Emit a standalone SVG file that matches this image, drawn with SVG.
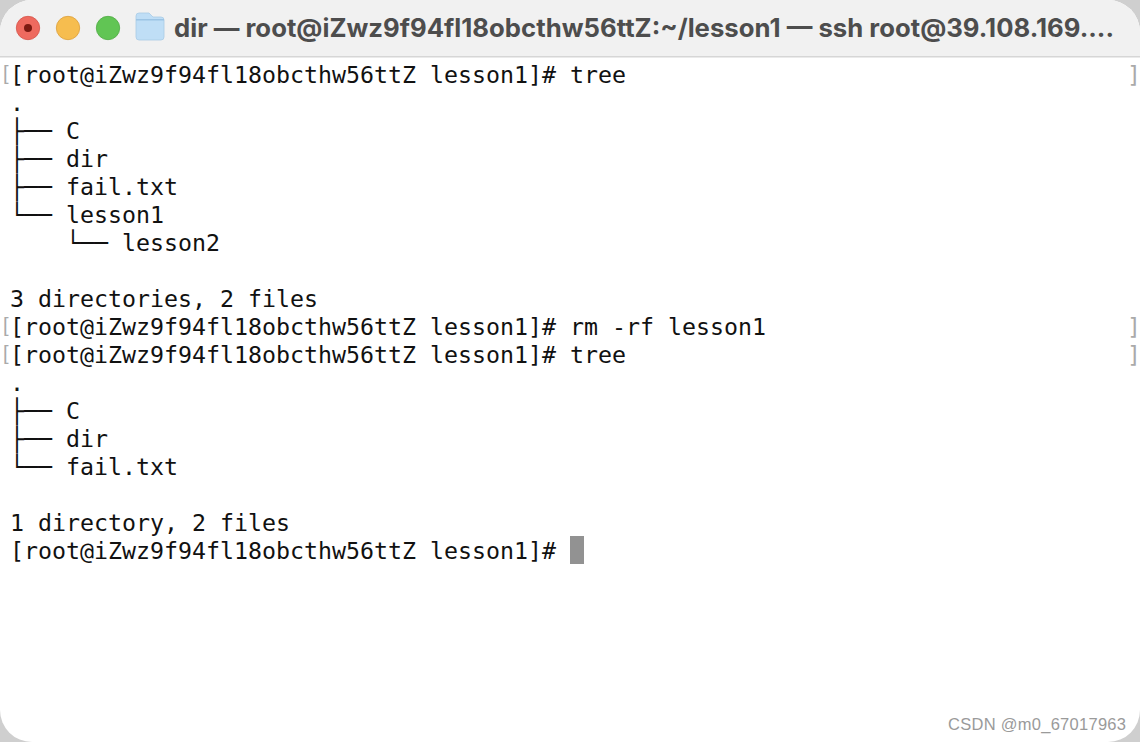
<svg xmlns="http://www.w3.org/2000/svg" width="1140" height="742" viewBox="0 0 1140 742">
<style>
.t{font-family:"DejaVu Sans Mono","Liberation Mono",monospace;font-size:23.25px;fill:#111;white-space:pre}
.m{font-family:"DejaVu Sans Mono","Liberation Mono",monospace;font-size:23.25px;fill:#aaa}
.l{font-family:"Liberation Sans",sans-serif;font-size:20px;fill:#aaa}
.title{font-family:"Inter","Liberation Sans",sans-serif;font-weight:700;font-size:25.5px;fill:#4d4d4d}
</style>
<defs><clipPath id="win"><rect x="0" y="0" width="1140" height="742" rx="32"/></clipPath></defs>
<rect width="1140" height="742" fill="#cfcfcf"/>
<g id="window" clip-path="url(#win)">
<rect width="1140" height="742" fill="#fff"/>
<rect width="1140" height="56" fill="#f1f1f1"/>
<rect y="56" width="1140" height="1.5" fill="#d6d6d6"/>
</g>
<g id="titlebar">
<circle cx="28" cy="28" r="11.7" fill="#ee6a5f" stroke="#d5544a" stroke-width="0.8"/>
<circle cx="28" cy="28" r="4" fill="#7c1a12"/>
<circle cx="68" cy="28" r="11.7" fill="#f6bd4f" stroke="#dca03c" stroke-width="0.8"/>
<circle cx="108" cy="28" r="11.7" fill="#61c554" stroke="#50ab45" stroke-width="0.8"/>
<path d="M136 16q0-3 3-3h10l4 4h8q3 0 3 3v17q0 3-3 3h-22q-3 0-3-3z" fill="#bfdef6" stroke="#a9cbe6" stroke-width="0.8"/>
<rect x="136" y="19" width="28" height="1.5" fill="#9cc4e4"/>
<text class="title" x="174" y="37" textLength="940" lengthAdjust="spacingAndGlyphs">dir — root@iZwz9f94fl18obcthw56ttZ:~/lesson1 — ssh root@39.108.169....</text>
</g>
<g id="terminal">
<text class="l" x="3" y="79.5">[</text><text class="t" x="10" y="83">[root@iZwz9f94fl18obcthw56ttZ lesson1]# tree</text><text class="m" x="1127" y="83">]</text>
<text class="t" x="10" y="111">.</text>
<text class="t" x="10" y="139">├── C</text>
<text class="t" x="10" y="167">├── dir</text>
<text class="t" x="10" y="195">├── fail.txt</text>
<text class="t" x="10" y="223">└── lesson1</text>
<text class="t" x="66" y="251">└── lesson2</text>
<text class="t" x="10" y="307">3 directories, 2 files</text>
<text class="l" x="3" y="331.5">[</text><text class="t" x="10" y="335">[root@iZwz9f94fl18obcthw56ttZ lesson1]# rm -rf lesson1</text><text class="m" x="1127" y="335">]</text>
<text class="l" x="3" y="359.5">[</text><text class="t" x="10" y="363">[root@iZwz9f94fl18obcthw56ttZ lesson1]# tree</text><text class="m" x="1127" y="363">]</text>
<text class="t" x="10" y="391">.</text>
<text class="t" x="10" y="419">├── C</text>
<text class="t" x="10" y="447">├── dir</text>
<text class="t" x="10" y="475">└── fail.txt</text>
<text class="t" x="10" y="531">1 directory, 2 files</text>
<text class="t" x="10" y="559">[root@iZwz9f94fl18obcthw56ttZ lesson1]#</text>
<rect id="cursor" x="570" y="536" width="14" height="28" fill="#929292"/>
</g>
<text id="watermark" x="948" y="730" font-family="Liberation Sans,sans-serif" font-size="16.5" fill="#9a9a9a" textLength="178">CSDN @m0_67017963</text>
</svg>
